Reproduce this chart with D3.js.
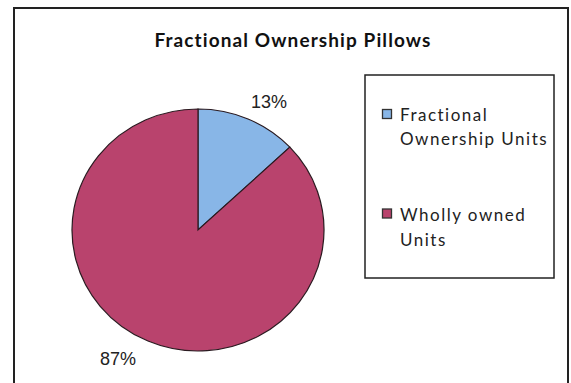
<!DOCTYPE html>
<html>
<head>
<meta charset="utf-8">
<script src="https://cdn.jsdelivr.net/npm/d3@7"></script>
<style>
  html, body { margin: 0; padding: 0; background: #fff; }
  svg { display: block; }
</style>
</head>
<body>
<svg id="chart" width="571" height="383"></svg>
<script>
// Share of pillows by unit ownership type
const categories = ["Fractional Ownership Units", "Wholly owned Units"];
const values = [13, 87];
const legendLines = [["Fractional", "Ownership Units"], ["Wholly owned", "Units"]];
const colors = ["#88B6E7", "#B9436D"];
const title = "Fractional Ownership Pillows";

const svg = d3.select("#chart");

// chart area frame
svg.append("rect").attr("x", 14).attr("y", 8).attr("width", 554).attr("height", 390)
  .attr("fill", "#fff").attr("stroke", "#222").attr("stroke-width", 2);

svg.append("text").attr("x", 293).attr("y", 46.5).attr("text-anchor", "middle")
  .attr("font-family", "Lato, 'Open Sans', sans-serif").attr("font-weight", "bold")
  .attr("font-size", 19).attr("letter-spacing", 1.1).attr("fill", "#111").text(title);

// pie
const cx = 198, cy = 230, rx = 126, ry = 121;
const pie = d3.pie().sort(null).value(d => d)(values);
const arc = d3.arc().innerRadius(0).outerRadius(rx);
const g = svg.append("g").attr("transform", `translate(${cx},${cy}) scale(1,${ry / rx})`);
g.selectAll("path").data(pie).join("path")
  .attr("d", arc).attr("fill", (d, i) => colors[i])
  .attr("stroke", "#2a1a20").attr("stroke-width", 1.2)
  .attr("vector-effect", "non-scaling-stroke");

// percentage labels
const fmt = v => v + "%";
svg.append("text").attr("x", 269).attr("y", 107.5).attr("text-anchor", "middle")
  .attr("font-family", "'Liberation Sans', Arial, sans-serif").attr("font-size", 18)
  .attr("fill", "#222").text(fmt(values[0]));
svg.append("text").attr("x", 118).attr("y", 365).attr("text-anchor", "middle")
  .attr("font-family", "'Liberation Sans', Arial, sans-serif").attr("font-size", 18)
  .attr("fill", "#222").text(fmt(values[1]));

// legend
svg.append("rect").attr("x", 365).attr("y", 75).attr("width", 189).attr("height", 203)
  .attr("fill", "#fff").attr("stroke", "#222").attr("stroke-width", 1.5);
const itemY = [109.5, 209];
const baseY = [120.5, 221];
categories.forEach((c, i) => {
  svg.append("rect").attr("x", 382.5).attr("y", itemY[i]).attr("width", 9).attr("height", 9)
    .attr("fill", colors[i]).attr("stroke", "#333").attr("stroke-width", 1.3);
  const t = svg.append("text").attr("font-family", "Lato, 'Open Sans', sans-serif")
    .attr("font-size", 17).attr("fill", "#222").attr("letter-spacing", 1.5);
  legendLines[i].forEach((ln, j) => {
    t.append("tspan").attr("x", 400).attr("y", baseY[i] + j * 24.5).text(ln);
  });
});
</script>
</body>
</html>
